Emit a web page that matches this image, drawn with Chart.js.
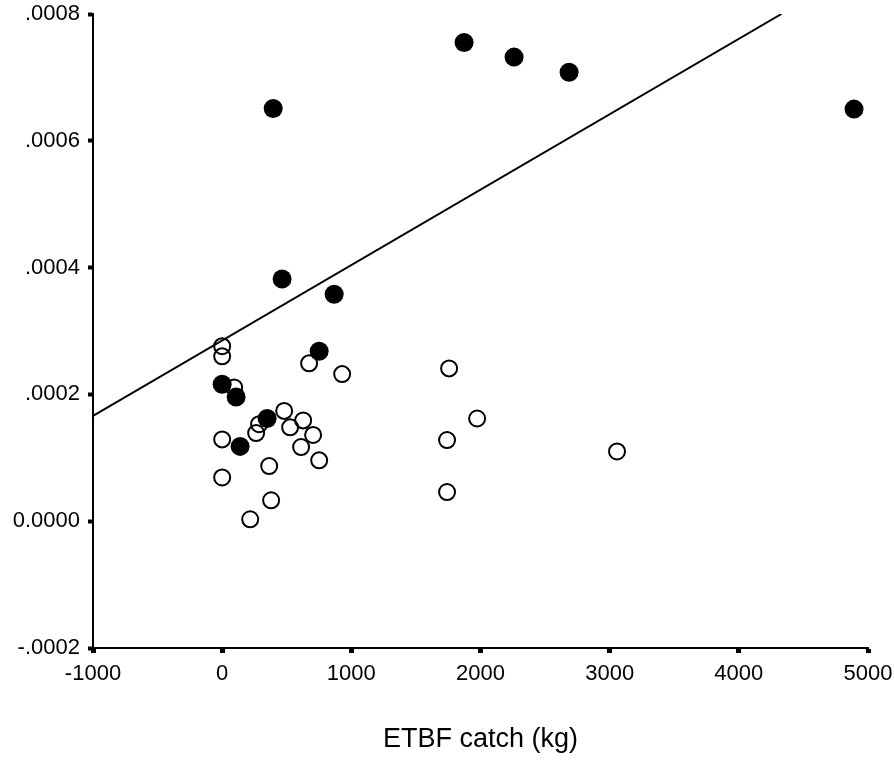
<!DOCTYPE html>
<html>
<head>
<meta charset="utf-8">
<title>ETBF catch scatter</title>
<script src="https://cdn.jsdelivr.net/npm/chart.js@4"></script>
<style>
    body { margin: 0; background: #fff; }
    #wrap { width: 894px; height: 760px; }
</style>
</head>
<body>
<div id="wrap"><canvas id="myChart" width="894" height="760"></canvas></div>
<script>
// filled dots
const filledX = [395, 1873, 2260, 2686, 4892, 464, 867, 751, 0, 108, 348, 139];
const filledY = [0.000651, 0.000755, 0.000732, 0.000708, 0.000650, 0.000382, 0.000358, 0.000268, 0.000216, 0.000196, 0.000162, 0.000118];

// open circles
const openX = [0, 0, 93, 673, 929, 480, 627, 286, 263, 526, 704, 611, 0, 751, 364, 0, 379, 217, 1757, 1974, 1741, 1741, 3057];
const openY = [0.000276, 0.000260, 0.000211, 0.000249, 0.000232, 0.000174, 0.000159, 0.000153, 0.000139, 0.000148, 0.000136, 0.000117, 0.000129, 0.000096, 0.000087, 0.000069, 0.000033, 0.000003, 0.000241, 0.000162, 0.000128, 0.000046, 0.000110];

// fitted line end points
const lineX = [-1000, 4330];
const lineY = [0.000166, 0.0008];

const xTickValues = [-1000, 0, 1000, 2000, 3000, 4000, 5000];
const xTickLabels = ['-1000', '0', '1000', '2000', '3000', '4000', '5000'];
const yTickValues = [-0.0002, 0, 0.0002, 0.0004, 0.0006, 0.0008];
const yTickLabels = ['-.0002', '0.0000', '.0002', '.0004', '.0006', '.0008'];

const xTitle = 'ETBF catch (kg)';

function toPoints(xs, ys) {
    var pts = [];
    for (let i = 0; i < xs.length; i++) {
        pts.push({x: xs[i], y: ys[i]});
    }
    return pts;
}

const font = "Arial, 'Liberation Sans', sans-serif";

// pin the plot box to where the reference has it
const fixArea = {
    id: 'fixArea',
    afterLayout: function(chart) {
        const area = chart.chartArea;
        area.left = 93;
        area.right = 868;
        area.top = 14;
        area.bottom = 648;
        area.width = area.right - area.left;
        area.height = area.bottom - area.top;
        const sx = chart.scales.x;
        sx.left = 93; sx.right = 868; sx.width = 775;
        sx.top = 648; sx.bottom = 760; sx.height = 112;
        const sy = chart.scales.y;
        sy.left = 0; sy.right = 93; sy.width = 93;
        sy.top = 14; sy.bottom = 648; sy.height = 634;
        sx.configure();
        sy.configure();
    }
};

const ctx = document.getElementById('myChart').getContext('2d');
const myChart = new Chart(ctx, {
    type: 'scatter',
    data: {
        datasets: [
            {
                label: 'filled',
                data: toPoints(filledX, filledY),
                backgroundColor: '#000',
                borderColor: '#000',
                borderWidth: 0,
                pointRadius: 9.5,
                order: 1
            },
            {
                label: 'open',
                data: toPoints(openX, openY),
                backgroundColor: 'rgba(0,0,0,0)',
                borderColor: '#000',
                borderWidth: 2,
                pointRadius: 8,
                order: 2
            },
            {
                type: 'line',
                label: 'fit',
                data: toPoints(lineX, lineY),
                borderColor: '#000',
                borderWidth: 2,
                pointRadius: 0,
                fill: false,
                tension: 0,
                order: 0
            }
        ]
    },
    plugins: [fixArea],
    options: {
        responsive: false,
        animation: false,
        devicePixelRatio: 1,
        plugins: {
            legend: {display: false},
            tooltip: {enabled: false}
        },
        scales: {
            x: {
                type: 'linear',
                min: -1000,
                max: 5000,
                afterBuildTicks: function(scale) {
                    scale.ticks = xTickValues.map(v => ({value: v}));
                },
                grid: {
                    drawOnChartArea: false,
                    drawTicks: true,
                    tickLength: 5,
                    tickWidth: 5,
                    tickColor: '#000'
                },
                border: {display: true, color: '#000', width: 2},
                ticks: {
                    color: '#000',
                    padding: 8,
                    maxRotation: 0,
                    font: {family: font, size: 22},
                    callback: function(value, index) {
                        return xTickLabels[index];
                    }
                },
                title: {
                    display: true,
                    text: xTitle,
                    color: '#000',
                    font: {family: font, size: 27},
                    padding: {top: 0, bottom: 4}
                }
            },
            y: {
                type: 'linear',
                min: -0.0002,
                max: 0.0008,
                afterBuildTicks: function(scale) {
                    scale.ticks = yTickValues.map(v => ({value: v}));
                },
                grid: {
                    drawOnChartArea: false,
                    drawTicks: true,
                    tickLength: 5,
                    tickWidth: 4,
                    tickColor: '#000'
                },
                border: {display: true, color: '#000', width: 2},
                ticks: {
                    color: '#000',
                    padding: 8,
                    font: {family: font, size: 22},
                    callback: function(value, index) {
                        return yTickLabels[index];
                    }
                }
            }
        }
    }
});
</script>
</body>
</html>
